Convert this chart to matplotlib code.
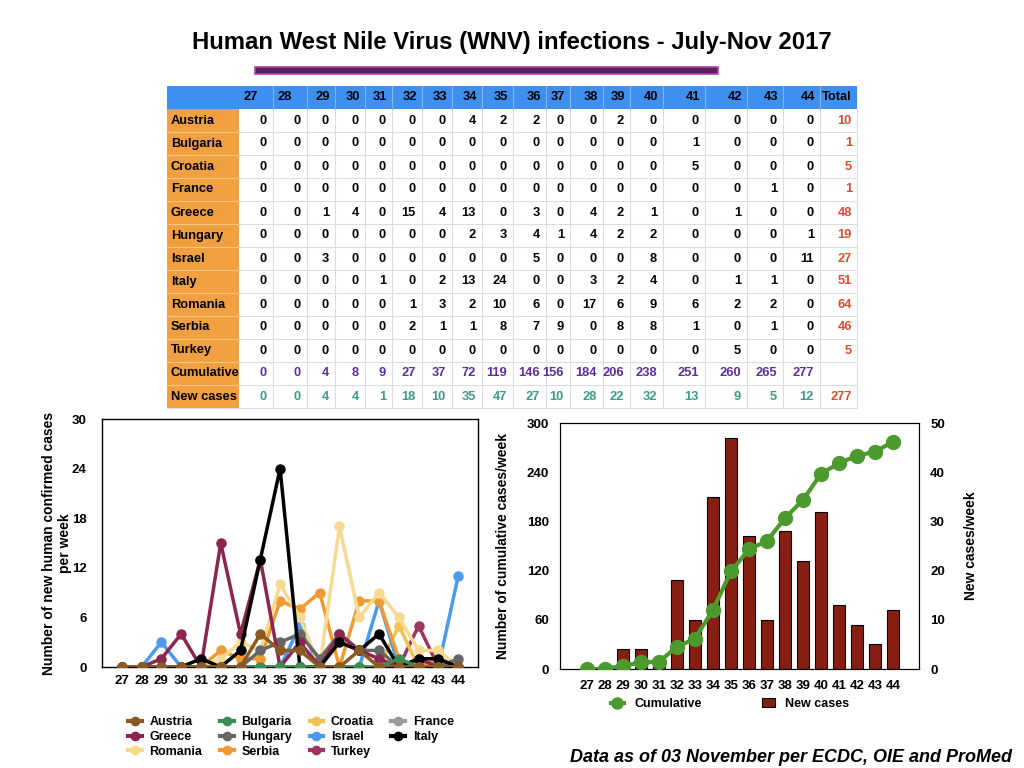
import matplotlib

matplotlib.use("Agg")
import matplotlib.pyplot as plt
from matplotlib.lines import Line2D
from matplotlib.patches import Rectangle

plt.rcParams["font.family"] = ["Liberation Sans", "DejaVu Sans"]
plt.rcParams["font.weight"] = "bold"

weeks = list(range(27, 45))
countries = ["Austria", "Bulgaria", "Croatia", "France", "Greece", "Hungary",
             "Israel", "Italy", "Romania", "Serbia", "Turkey"]
austria = [0, 0, 0, 0, 0, 0, 0, 4, 2, 2, 0, 0, 2, 0, 0, 0, 0, 0]
bulgaria = [0, 0, 0, 0, 0, 0, 0, 0, 0, 0, 0, 0, 0, 0, 1, 0, 0, 0]
croatia = [0, 0, 0, 0, 0, 0, 0, 0, 0, 0, 0, 0, 0, 0, 5, 0, 0, 0]
france = [0, 0, 0, 0, 0, 0, 0, 0, 0, 0, 0, 0, 0, 0, 0, 0, 1, 0]
greece = [0, 0, 1, 4, 0, 15, 4, 13, 0, 3, 0, 4, 2, 1, 0, 1, 0, 0]
hungary = [0, 0, 0, 0, 0, 0, 0, 2, 3, 4, 1, 4, 2, 2, 0, 0, 0, 1]
israel = [0, 0, 3, 0, 0, 0, 0, 0, 0, 5, 0, 0, 0, 8, 0, 0, 0, 11]
italy = [0, 0, 0, 0, 1, 0, 2, 13, 24, 0, 0, 3, 2, 4, 0, 1, 1, 0]
romania = [0, 0, 0, 0, 0, 1, 3, 2, 10, 6, 0, 17, 6, 9, 6, 2, 2, 0]
serbia = [0, 0, 0, 0, 0, 2, 1, 1, 8, 7, 9, 0, 8, 8, 1, 0, 1, 0]
turkey = [0, 0, 0, 0, 0, 0, 0, 0, 0, 0, 0, 0, 0, 0, 0, 5, 0, 0]
cumulative = [0, 0, 4, 8, 9, 27, 37, 72, 119, 146, 156, 184, 206, 238, 251, 260, 265, 277]
new_cases = [0, 0, 4, 4, 1, 18, 10, 35, 47, 27, 10, 28, 22, 32, 13, 9, 5, 12]
totals = [10, 1, 5, 1, 48, 19, 27, 51, 64, 46, 5]
new_total = 277

series = {
    "Austria": austria, "Bulgaria": bulgaria, "Croatia": croatia, "France": france,
    "Greece": greece, "Hungary": hungary, "Israel": israel, "Italy": italy,
    "Romania": romania, "Serbia": serbia, "Turkey": turkey,
}
colors = {
    "Austria": "#8b5a24", "Bulgaria": "#3d8c52", "Croatia": "#f2c24f",
    "France": "#9a9a9a", "Greece": "#8a2650", "Hungary": "#666666",
    "Israel": "#4a9af0", "Italy": "#000000", "Romania": "#f7da92",
    "Serbia": "#ef9a35", "Turkey": "#9c3562",
}
legend_order = ["Austria", "Greece", "Romania", "Bulgaria", "Hungary", "Serbia",
                "Croatia", "Israel", "Turkey", "France", "Italy"]
draw_order = ["Turkey", "France", "Croatia", "Israel", "Serbia", "Romania",
              "Hungary", "Greece", "Italy", "Bulgaria", "Austria"]

W, H = 1024, 768
fig = plt.figure(figsize=(W / 100, H / 100), dpi=100)


def px_rect(x0, y0, x1, y1):
    return [x0 / W, 1 - y1 / H, (x1 - x0) / W, (y1 - y0) / H]


# title + purple bar
fig.text(512 / W, 1 - 42 / H, "Human West Nile Virus (WNV) infections - July-Nov 2017",
         ha="center", va="center", fontsize=17.2, fontweight="bold")
bar_ax = fig.add_axes(px_rect(0, 0, W, H))
bar_ax.set_xlim(0, W)
bar_ax.set_ylim(H, 0)
bar_ax.axis("off")
bar_ax.add_patch(Rectangle((255, 67), 463, 7, facecolor="#5c1e5c", edgecolor="#b040a8", lw=1.2))

# table
tab = fig.add_axes(px_rect(167, 86, 858, 409))
tab.set_xlim(167, 858)
tab.set_ylim(409, 86)
tab.axis("off")
col_w = [34, 34, 28, 30, 27, 30, 30, 30, 31, 33, 24, 33, 27, 33, 42, 42, 36, 37, 37]
edges = [239]
for w in col_w:
    edges.append(edges[-1] + w)
top, row_h = 86, 23
n_rows = 14
bottom = top + n_rows * row_h

tab.add_patch(Rectangle((167, top), 857 - 167, row_h, facecolor="#3f8fee", lw=0))
tab.add_patch(Rectangle((167, top + row_h), 239 - 167, bottom - top - row_h, facecolor="#f0a040", lw=0))
for i in range(2, n_rows):
    y = top + i * row_h
    tab.plot([239, 857], [y, y], color="#dddddd", lw=0.8)
    tab.plot([167, 239], [y, y], color="#f6c485", lw=0.8)
for x in edges[1:-1]:
    tab.plot([x, x], [top + row_h, bottom], color="#dddddd", lw=0.8)
    tab.plot([x, x], [top, top + row_h], color="#7fb6f4", lw=0.8)
tab.plot([857, 857], [top + row_h, bottom], color="#dddddd", lw=0.8)
tab.plot([167, 857], [bottom, bottom], color="#dddddd", lw=0.8)

fs = 9.3
headers = [str(w) for w in weeks] + ["Total"]
for j, lab in enumerate(headers):
    yc = top + row_h / 2
    if j < 2:
        tab.text(edges[j] + 5, yc, lab, ha="left", va="center", fontsize=fs, fontweight="bold")
    else:
        tab.text(edges[j + 1] - 5, yc, lab, ha="right", va="center", fontsize=fs, fontweight="bold")

row_labels = countries + ["Cumulative", "New cases"]
row_values = [series[c] for c in countries] + [cumulative, new_cases]
row_totals = totals + [None, new_total]
for i, (lab, vals, tot) in enumerate(zip(row_labels, row_values, row_totals)):
    yc = top + (i + 1) * row_h + row_h / 2
    tab.text(171, yc, lab, ha="left", va="center", fontsize=fs, fontweight="bold")
    if lab == "Cumulative":
        vcol = "#5b2d9e"
    elif lab == "New cases":
        vcol = "#3a9a8c"
    else:
        vcol = "black"
    for j, v in enumerate(vals):
        tab.text(edges[j + 1] - 6, yc, str(v), ha="right", va="center",
                 fontsize=fs, fontweight="bold", color=vcol)
    if tot is not None:
        tab.text(edges[-1] - 5, yc, str(tot), ha="right", va="center",
                 fontsize=fs, fontweight="bold", color="#e2492c")

# left chart: weekly cases per country
ax1 = fig.add_axes(px_rect(102, 419, 478, 667))
for c in draw_order:
    ax1.plot(weeks, series[c], color=colors[c], lw=2.5, marker="o", ms=6.5, zorder=3)
ax1.set_xlim(26, 45)
ax1.set_ylim(0, 30)
ax1.set_yticks(range(0, 31, 6))
ax1.set_xticks(weeks)
ax1.tick_params(length=0, labelsize=9.5, pad=6)
ax1.tick_params(axis="y", pad=11)
for t in ax1.get_xticklabels() + ax1.get_yticklabels():
    t.set_fontweight("bold")
ax1.set_ylabel("Number of new human confirmed cases\nper week", fontsize=10, fontweight="bold",
               labelpad=0)
for s in ax1.spines.values():
    s.set_linewidth(1.0)

handles = [Line2D([], [], color=colors[c], lw=3, marker="o", ms=6) for c in legend_order]
fig.legend(handles, legend_order, ncol=4, loc="center", bbox_to_anchor=(291 / W, 1 - 737 / H),
           frameon=False, handlelength=1.1, handletextpad=0.6,
           columnspacing=1.4, labelspacing=0.22, prop={"weight": "bold", "size": 9})

# right chart: cumulative vs new cases
ax2 = fig.add_axes(px_rect(560, 423, 919, 669))
ax3 = ax2.twinx()
ax3.bar(weeks, new_cases, width=0.67, color="#861f12", edgecolor="black", lw=0.8, zorder=2)
ax2.set_zorder(ax3.get_zorder() + 1)
ax2.patch.set_visible(False)
ax2.plot(weeks, cumulative, color="#4c9a2e", lw=3, marker="o", ms=10, zorder=4)
ax2.set_xlim(25.5, 45.45)
ax2.set_ylim(0, 300)
ax3.set_ylim(0, 50)
ax2.set_yticks(range(0, 301, 60))
ax3.set_yticks(range(0, 51, 10))
ax2.set_xticks(weeks)
for a in (ax2, ax3):
    a.tick_params(length=0, labelsize=9.5, pad=8)
    for t in a.get_xticklabels() + a.get_yticklabels():
        t.set_fontweight("bold")
ax2.set_ylabel("Number of cumulative cases/week", fontsize=10, fontweight="bold", labelpad=12)
ax3.set_ylabel("New cases/week", fontsize=10, fontweight="bold", labelpad=14)

h2 = [Line2D([], [], color="#4c9a2e", lw=3, marker="o", ms=8),
      Rectangle((0, 0), 1, 1, facecolor="#861f12", edgecolor="black", lw=0.8)]
fig.legend(h2, ["Cumulative", "New cases"], ncol=2, loc="center",
           bbox_to_anchor=(730 / W, 1 - 704 / H), frameon=False, handlelength=1.1,
           columnspacing=4.8, prop={"weight": "bold", "size": 9})

fig.text(1012 / W, 1 - 757 / H, "Data as of 03 November per ECDC, OIE and ProMed",
         ha="right", va="center", fontsize=13, fontweight="bold", style="italic")

fig.savefig("out.png", dpi=100)
